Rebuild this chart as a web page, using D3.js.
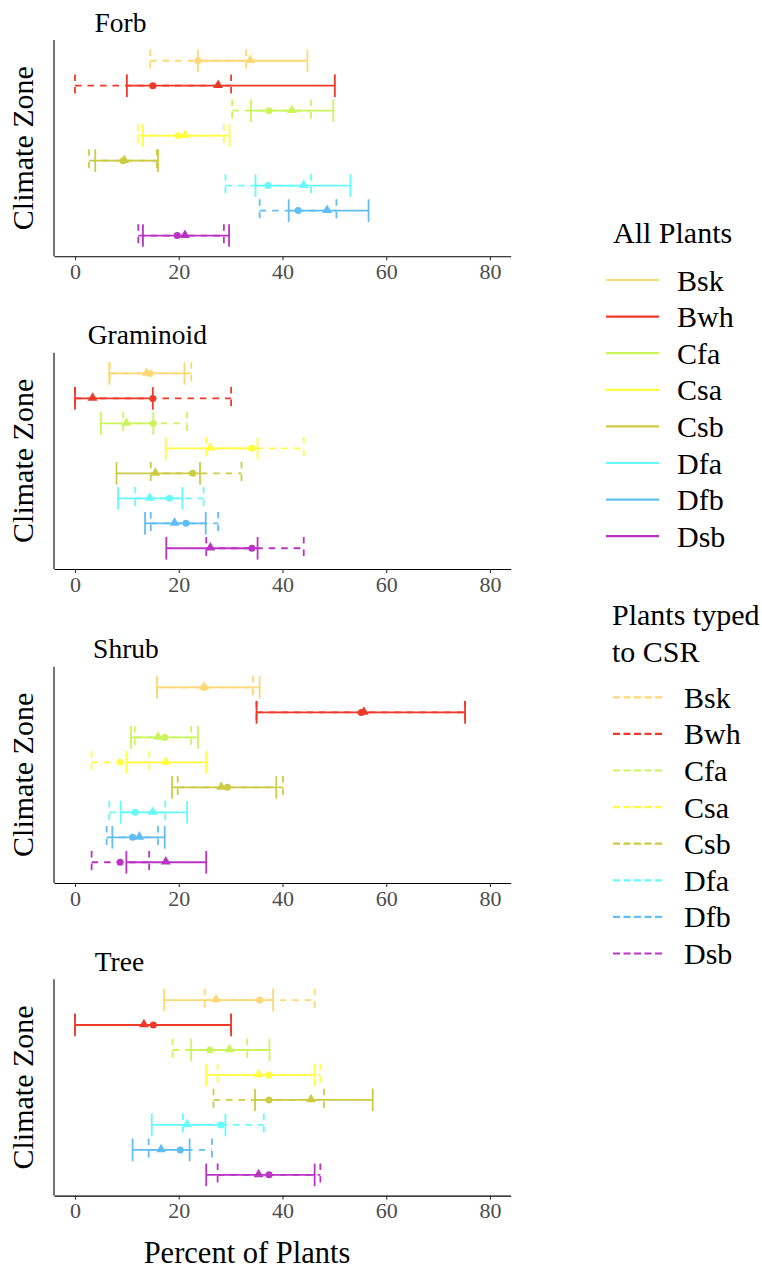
<!DOCTYPE html>
<html>
<head>
<meta charset="utf-8">
<script src="https://cdn.jsdelivr.net/npm/d3@7"></script>
<style>
  body { margin: 0; background: #fff; }
  svg text { font-family: "Liberation Serif", "Tinos", "Times New Roman", Times, serif; }
</style>
</head>
<body>
<div id="chart"></div>
<script>
// climate zones, top to bottom
var zones = ['Bsk', 'Bwh', 'Cfa', 'Csa', 'Csb', 'Dfa', 'Dfb', 'Dsb'];
var zoneColors = ['#FDD876', '#EE3A2A', '#CCF55C', '#FFFF40', '#CCCC44', '#66FBFB', '#60BEF4', '#BB33C4'];
var panels = ['Forb', 'Graminoid', 'Shrub', 'Tree'];
var xTicks = [0, 20, 40, 60, 80];

// [low, estimate, high] per zone. "All" = solid + triangle, "Csr" = dashed + circle
var forbAll = [[23.7, 33.8, 44.8], [10.0, 27.6, 50.1], [33.9, 41.8, 49.8], [13.1, 21.2, 29.8],
               [3.9, 9.5, 16.0], [34.8, 44.1, 53.1], [41.2, 48.6, 56.6], [13.1, 21.2, 29.7]];
var forbCsr = [[14.5, 23.7, 33.0], [0, 15.0, 30.1], [30.3, 37.4, 45.5], [12.1, 19.8, 28.7],
               [2.7, 9.3, 15.8], [29.0, 37.2, 45.5], [35.6, 43.0, 50.4], [12.2, 19.7, 28.7]];

var gramAll = [[6.6, 13.8, 21.1], [0, 3.4, 15.0], [5.0, 9.9, 15.1], [17.5, 26.1, 35.2],
               [8.0, 15.5, 24.1], [8.3, 14.4, 20.7], [13.5, 19.2, 25.2], [17.6, 26.1, 35.2]];
var gramCsr = [[6.7, 14.5, 22.4], [0, 15.0, 30.1], [9.3, 15.1, 21.6], [25.3, 34.1, 44.1],
               [14.6, 22.7, 32.1], [11.6, 18.2, 24.8], [14.6, 21.4, 27.6], [25.3, 34.1, 44.1]];

var shrubAll = [[15.8, 24.9, 35.6], [35.0, 55.7, 75.2], [10.8, 16.0, 23.7], [9.9, 17.5, 25.3],
                [18.7, 28.2, 38.8], [8.8, 15.0, 21.6], [7.2, 12.4, 17.3], [9.9, 17.5, 25.3]];
var shrubCsr = [[15.8, 24.9, 34.3], [35.0, 55.2, 75.2], [11.5, 17.3, 22.4], [3.2, 8.7, 14.3],
                [19.8, 29.4, 40.1], [6.6, 11.6, 17.4], [6.1, 11.1, 16.0], [3.2, 8.7, 14.3]];

var treeAll = [[17.2, 27.2, 38.2], [0, 13.3, 30.1], [22.4, 29.8, 37.5], [25.3, 35.4, 46.2],
               [34.7, 45.5, 57.4], [14.8, 21.6, 29.0], [11.1, 16.6, 22.1], [25.3, 35.4, 46.2]];
var treeCsr = [[25.0, 35.6, 46.2], [0, 15.1, 30.1], [18.8, 26.0, 33.2], [27.5, 37.4, 47.3],
               [26.7, 37.4, 48.0], [20.8, 28.1, 36.4], [14.2, 20.3, 26.4], [27.5, 37.4, 47.3]];

var panelAll = [forbAll, gramAll, shrubAll, treeAll];
var panelCsr = [forbCsr, gramCsr, shrubCsr, treeCsr];

var W = 762, H = 1268;
var left = 54, right = 510.7;
var panelTops = [40, 352.7, 666.7, 979.3];
var panelH = 216.3;
var plotDash = '6.5,6';
var serif = '"Liberation Serif", "Tinos", "Times New Roman", Times, serif';

var svg = d3.select('#chart').append('svg')
  .attr('width', W)
  .attr('height', H)
  .attr('font-family', serif);

var x = d3.scaleLinear().domain([-4.05, 84]).range([left, right]);
var color = d3.scaleOrdinal().domain(zones).range(zoneColors);

var drawBars = function (g, y, rows, dashed) {
  var bars = g.append('g').selectAll('g')
    .data(rows.map(function (r, i) { return { zone: zones[i], lo: r[0], mid: r[1], hi: r[2] }; }))
    .enter().append('g')
    .attr('stroke', function (d) { return color(d.zone); })
    .attr('stroke-width', 1.8)
    .attr('fill', 'none')
    .attr('stroke-dasharray', dashed ? plotDash : null);

  bars.append('line')
    .attr('x1', function (d) { return x(d.lo); })
    .attr('x2', function (d) { return x(d.hi); })
    .attr('y1', function (d) { return y(d.zone); })
    .attr('y2', function (d) { return y(d.zone); });
  // caps
  ['lo', 'hi'].forEach(function (k) {
    bars.append('line')
      .attr('x1', function (d) { return x(d[k]); })
      .attr('x2', function (d) { return x(d[k]); })
      .attr('y1', function (d) { return y(d.zone) - 11.3; })
      .attr('y2', function (d) { return y(d.zone) + 11.3; });
  });
};

panels.forEach(function (name, p) {
  var top = panelTops[p], bottom = top + panelH;
  var g = svg.append('g');
  var y = d3.scalePoint().domain(zones).range([top, bottom]).padding(0.83);

  drawBars(g, y, panelCsr[p], true);
  drawBars(g, y, panelAll[p], false);

  // estimates: circles for CSR typed, triangles for all plants
  g.append('g').selectAll('circle')
    .data(panelCsr[p])
    .enter().append('circle')
    .attr('cx', function (d) { return x(d[1]); })
    .attr('cy', function (d, i) { return y(zones[i]); })
    .attr('r', 3.5)
    .attr('fill', function (d, i) { return zoneColors[i]; });

  g.append('g').selectAll('path')
    .data(panelAll[p])
    .enter().append('path')
    .attr('d', d3.symbol().type(d3.symbolTriangle).size(42))
    .attr('transform', function (d, i) { return 'translate(' + x(d[1]) + ',' + (y(zones[i]) - 0.5) + ')'; })
    .attr('fill', function (d, i) { return zoneColors[i]; });

  // axes
  g.append('line')
    .attr('x1', left).attr('x2', left)
    .attr('y1', top).attr('y2', bottom)
    .attr('stroke', '#000').attr('stroke-width', 1.1);

  var ax = g.append('g')
    .attr('transform', 'translate(0,' + bottom + ')')
    .call(d3.axisBottom(x).tickValues(xTicks).tickSize(4).tickSizeOuter(0).tickPadding(3));
  ax.attr('font-family', serif);
  ax.select('.domain').attr('stroke', '#000').attr('stroke-width', 1.1);
  ax.selectAll('.tick line').attr('stroke', '#333').attr('stroke-width', 1.1);
  ax.selectAll('.tick text')
    .attr('fill', '#4D4D4D')
    .style('font-size', '22px');

  // panel title, placed like hjust = 0.1
  var title = g.append('text')
    .attr('y', top - 8.5)
    .style('font-size', '27.5px')
    .text(name);
  var tw = title.node().getComputedTextLength();
  title.attr('x', left + 0.1 * (right - left) - 0.1 * tw);

  g.append('text')
    .attr('transform', 'translate(33,' + (top + panelH / 2) + ') rotate(-90)')
    .attr('text-anchor', 'middle')
    .style('font-size', '30px')
    .text('Climate Zone');
});

svg.append('text')
  .attr('x', 247)
  .attr('y', 1262.5)
  .attr('text-anchor', 'middle')
  .style('font-size', '30.5px')
  .text('Percent of Plants');

// legends
var drawLegend = function (titleLines, titleX, titleY, lineX1, lineX2, labelX, rowY, dash) {
  var lg = svg.append('g');
  titleLines.forEach(function (t, i) {
    lg.append('text')
      .attr('x', titleX)
      .attr('y', titleY + i * 37)
      .style('font-size', '30px')
      .text(t);
  });
  var rows = lg.selectAll('g.key')
    .data(zones)
    .enter().append('g')
    .attr('class', 'key')
    .attr('transform', function (d, i) { return 'translate(0,' + (rowY + i * 36.6) + ')'; });
  rows.append('line')
    .attr('x1', lineX1).attr('x2', lineX2)
    .attr('stroke', function (d) { return color(d); })
    .attr('stroke-width', 2.2)
    .attr('stroke-dasharray', dash);
  rows.append('text')
    .attr('x', labelX)
    .attr('y', 10.5)
    .style('font-size', '30px')
    .text(function (d) { return d; });
};

drawLegend(['All Plants'], 613, 243, 606, 659, 677, 280, null);
drawLegend(['Plants typed', 'to CSR'], 612, 625, 613, 665, 684, 697.3, '7,3.5');
</script>
</body>
</html>
